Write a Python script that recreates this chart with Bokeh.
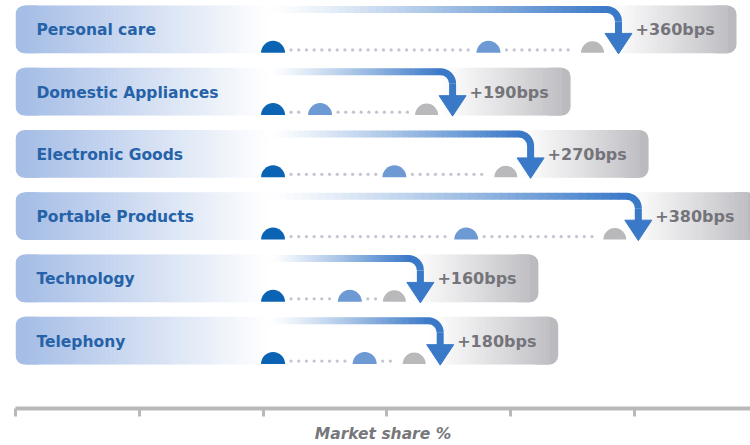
import numpy as np
from bokeh.plotting import figure
from bokeh.models import Range1d, FixedTicker, ColumnDataSource
from bokeh.embed import file_html
from bokeh.resources import INLINE
from bokeh.core.properties import value

# ---------------- data ----------------
categories = ["Personal care", "Domestic Appliances", "Electronic Goods",
              "Portable Products", "Technology", "Telephony"]
bps_labels = ["+360bps", "+190bps", "+270bps", "+380bps", "+160bps", "+180bps"]
start_share = [10.4, 10.4, 10.4, 10.4, 10.4, 10.4]
mid_share = [19.1, 12.3, 15.3, 18.2, 13.5, 14.1]
end_share = [23.3, 16.6, 19.8, 24.2, 15.3, 16.1]
arrow_share = [24.35, 17.65, 20.8, 25.15, 16.35, 17.15]
axis_ticks = [0, 5, 10, 15, 20, 25]

# ---------------- layout helpers ----------------
W, H = 750, 445
LEFT, BOTTOM = 15, 36
FRAME_W, FRAME_H = W - LEFT, H - BOTTOM
X_END = 29.68
PXX = FRAME_W / X_END
ROW_PX = 62.4
FIRST_CENTER = 29.0
Y_TOP = -FIRST_CENTER / ROW_PX
Y_BOT = (FRAME_H - FIRST_CENTER) / ROW_PX


def dx(px):
    return px / PXX


def dy(px):
    return px / ROW_PX


def lerp(c0, c1, t):
    t = min(max(t, 0.0), 1.0)
    r, g, b = (int(round(a + (b_ - a) * t)) for a, b_ in zip(c0, c1))
    return "#%02x%02x%02x" % (r, g, b)


WHITE = (255, 255, 255)
BAR_BLUE = (166, 190, 230)
BOX_GRAY = (186, 186, 191)
ARROW_BLUE = (58, 121, 200)
ARROW_HEX = "#3a79c8"
LABEL_COLOR = "#2562a8"
BPS_COLOR = "#74747a"

p = figure(width=W, height=H, output_backend="svg", toolbar_location=None,
           x_range=Range1d(0, X_END), y_range=Range1d(Y_BOT, Y_TOP),
           x_axis_location="below", y_axis_location=None,
           min_border_left=LEFT, min_border_right=0, min_border_top=0,
           min_border_bottom=BOTTOM)
p.outline_line_color = None
p.grid.visible = False
p.background_fill_color = "white"
p.border_fill_color = "white"

n = len(categories)
rows = list(range(n))
HALF = 24.0

# ---------------- blue label bars (gradient) ----------------
cap = dict(left=[], right=[], top=[], bottom=[])
strips = dict(left=[], right=[], top=[], bottom=[], color=[])
NS = 60
s0, s1 = 10.0, 252.0
for i in rows:
    top, bot = i - dy(HALF), i + dy(HALF)
    cap["left"].append(0.0); cap["right"].append(dx(30))
    cap["top"].append(top); cap["bottom"].append(bot)
    w = (s1 - s0) / NS
    for k in range(NS):
        a = s0 + k * w
        t = (a + w / 2 - s0) / (s1 - s0)
        strips["left"].append(dx(a)); strips["right"].append(dx(a + w + 0.6))
        strips["top"].append(top); strips["bottom"].append(bot)
        strips["color"].append(lerp(BAR_BLUE, WHITE, t ** 1.0))
p.quad(source=ColumnDataSource(cap), left="left", right="right", top="top",
       bottom="bottom", fill_color=lerp(BAR_BLUE, WHITE, 0), line_color=None,
       border_radius=9)
p.quad(source=ColumnDataSource(strips), left="left", right="right", top="top",
       bottom="bottom", fill_color="color", line_color=None)

# ---------------- gray result boxes (gradient) ----------------
gcap = dict(left=[], right=[], top=[], bottom=[])
gstr = dict(left=[], right=[], top=[], bottom=[], color=[])
NG = 40
for i, a_s in zip(rows, arrow_share):
    top, bot = i - dy(HALF), i + dy(HALF)
    gl = a_s - dx(14)
    gr = a_s + dx(118)
    gcap["left"].append(gr - dx(30)); gcap["right"].append(gr)
    gcap["top"].append(top); gcap["bottom"].append(bot)
    ge = gr - dx(9)
    w = (ge - gl) / NG
    for k in range(NG):
        a = gl + k * w
        t = (a + w / 2 - gl) / (gr - gl)
        gstr["left"].append(a); gstr["right"].append(a + w + dx(0.6))
        gstr["top"].append(top); gstr["bottom"].append(bot)
        gstr["color"].append(lerp(WHITE, BOX_GRAY, t ** 1.15))
p.quad(source=ColumnDataSource(gcap), left="left", right="right", top="top",
       bottom="bottom", fill_color=lerp(WHITE, BOX_GRAY, 1), line_color=None,
       border_radius=9)
p.quad(source=ColumnDataSource(gstr), left="left", right="right", top="top",
       bottom="bottom", fill_color="color", line_color=None)

# ---------------- dotted connectors ----------------
R_M = 12.0
DOT_STEP = 7.7
dots_x, dots_y = [], []


def add_dots(x0, x1, y):
    a = x0 + dx(R_M + 6)
    b = x1 - dx(R_M + 5)
    if b <= a:
        return
    length_px = (b - a) * PXX
    m = int(length_px // DOT_STEP) + 1
    for k in range(m):
        dots_x.append(a + k * dx(DOT_STEP))
        dots_y.append(y)


for i in rows:
    yb = i + dy(HALF - 3.5)
    add_dots(start_share[i], mid_share[i], yb)
    add_dots(mid_share[i], end_share[i], yb)
p.scatter(dots_x, dots_y, marker="circle", size=3.3, fill_color="#c3c6d1",
          line_color=None)

# ---------------- half-circle markers ----------------
ybase = [i + dy(HALF - 0.5) for i in rows]
p.wedge(x=start_share, y=ybase, radius=R_M, radius_units="screen",
        start_angle=0, end_angle=np.pi, fill_color="#0b63b3", line_color=None)
p.wedge(x=mid_share, y=ybase, radius=R_M, radius_units="screen",
        start_angle=0, end_angle=np.pi, fill_color="#6e9ad3", line_color=None)
p.wedge(x=end_share, y=ybase, radius=R_M - 0.5, radius_units="screen",
        start_angle=0, end_angle=np.pi, fill_color="#b9b9bc", line_color=None)

# ---------------- arrows ----------------
R_A = 12.0
LW = 7
seg = dict(x0=[], y0=[], x1=[], y1=[], color=[])
NA = 45
arc_x, arc_y = [], []
shaft = dict(x0=[], y0=[], x1=[], y1=[])
heads_x, heads_y = [], []
for i, s_s, a_s in zip(rows, start_share, arrow_share):
    yl = i - dy(HALF) + dy(4)
    x0 = s_s - dx(2)
    x1 = a_s - dx(R_A)
    w = (x1 - x0) / NA
    for k in range(NA):
        a = x0 + k * w
        t = (a + w / 2 - x0) / (x1 - x0)
        seg["x0"].append(a); seg["x1"].append(a + w + dx(0.6))
        seg["y0"].append(yl); seg["y1"].append(yl)
        seg["color"].append(lerp(WHITE, ARROW_BLUE, t ** 1.15))
    arc_x.append(a_s - dx(R_A)); arc_y.append(yl + dy(R_A))
    bot = i + dy(HALF)
    shaft["x0"].append(a_s); shaft["x1"].append(a_s)
    shaft["y0"].append(yl + dy(R_A)); shaft["y1"].append(bot - dy(18))
    heads_x.append([a_s - dx(13.5), a_s + dx(13.5), a_s])
    heads_y.append([bot - dy(20), bot - dy(20), bot + dy(0.5)])
p.segment(source=ColumnDataSource(seg), x0="x0", y0="y0", x1="x1", y1="y1",
          line_color="color", line_width=LW, line_cap="butt")
p.arc(x=arc_x, y=arc_y, radius=R_A, radius_units="screen", start_angle=0,
      end_angle=np.pi / 2, line_color=ARROW_HEX, line_width=LW)
p.segment(source=ColumnDataSource(shaft), x0="x0", y0="y0", x1="x1", y1="y1",
          line_color=ARROW_HEX, line_width=LW, line_cap="butt")
p.patches(heads_x, heads_y, fill_color=ARROW_HEX, line_color=ARROW_HEX,
          line_width=1)

# ---------------- texts ----------------
p.text(x=[dx(21)] * n, y=[i + dy(1) for i in rows], text=categories,
       text_font=value("DejaVu Sans"), text_font_style="bold",
       text_font_size="15.5px", text_color=LABEL_COLOR, text_baseline="middle",
       text_align="left")
p.text(x=[a + dx(17) for a in arrow_share], y=[i + dy(0.5) for i in rows],
       text=bps_labels, text_font=value("DejaVu Sans"), text_font_style="bold",
       text_font_size="16px", text_color=BPS_COLOR, text_baseline="middle",
       text_align="left")

# ---------------- axis ----------------
ax = p.xaxis[0]
ax.ticker = FixedTicker(ticks=axis_ticks, minor_ticks=[])
ax.major_label_overrides = {t: "" for t in axis_ticks}
ax.major_label_text_font_size = "1px"
ax.major_label_standoff = 0
ax.axis_line_color = "#b9b9b9"
ax.axis_line_width = 4
ax.major_tick_line_color = "#b9b9b9"
ax.major_tick_line_width = 3
ax.major_tick_in = 0
ax.major_tick_out = 8
ax.minor_tick_line_color = None
ax.axis_label = "Market share %"
ax.axis_label_text_font = "DejaVu Sans"
ax.axis_label_text_font_style = "bold italic"
ax.axis_label_text_font_size = "15.5px"
ax.axis_label_text_color = "#77777b"
ax.axis_label_standoff = 8

open("out.html", "w").write(file_html(p, INLINE))
